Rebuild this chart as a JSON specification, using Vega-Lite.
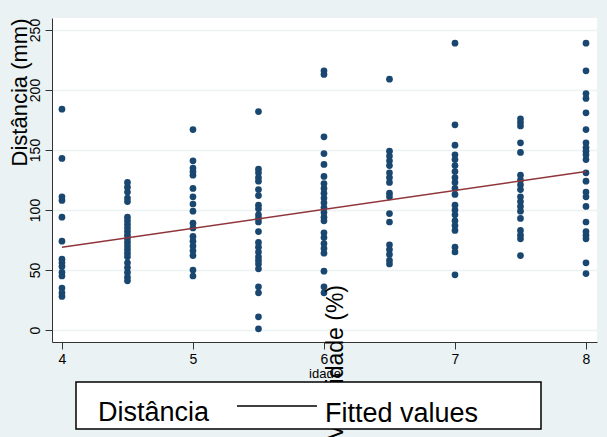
{
  "$schema": "https://vega.github.io/schema/vega-lite/v6.json",
  "width": 545,
  "height": 324,
  "autosize": {"type": "none"},
  "padding": {"left": 52, "top": 18, "right": 10, "bottom": 95},
  "background": "#EAF2F3",
  "config": {
    "view": {"fill": "white", "stroke": null},
    "font": "Liberation Sans",
    "axis": {"labelColor": "black", "titleColor": "black", "domainColor": "#333", "tickColor": "#333", "labelFont": "Liberation Sans", "titleFont": "Liberation Sans", "titleFontWeight": "normal"}
  },
  "datasets": {
    "points": [
      {"idade": 4, "dist": 184}, {"idade": 4, "dist": 143}, {"idade": 4, "dist": 111}, {"idade": 4, "dist": 108}, {"idade": 4, "dist": 94}, {"idade": 4, "dist": 74}, {"idade": 4, "dist": 59}, {"idade": 4, "dist": 56}, {"idade": 4, "dist": 53}, {"idade": 4, "dist": 48}, {"idade": 4, "dist": 45}, {"idade": 4, "dist": 35}, {"idade": 4, "dist": 31}, {"idade": 4, "dist": 28},
      {"idade": 4.5, "dist": 123}, {"idade": 4.5, "dist": 119}, {"idade": 4.5, "dist": 115}, {"idade": 4.5, "dist": 110}, {"idade": 4.5, "dist": 107}, {"idade": 4.5, "dist": 94}, {"idade": 4.5, "dist": 91}, {"idade": 4.5, "dist": 88}, {"idade": 4.5, "dist": 85}, {"idade": 4.5, "dist": 82}, {"idade": 4.5, "dist": 79}, {"idade": 4.5, "dist": 76}, {"idade": 4.5, "dist": 73}, {"idade": 4.5, "dist": 70}, {"idade": 4.5, "dist": 67}, {"idade": 4.5, "dist": 64}, {"idade": 4.5, "dist": 61}, {"idade": 4.5, "dist": 56}, {"idade": 4.5, "dist": 52}, {"idade": 4.5, "dist": 48}, {"idade": 4.5, "dist": 44}, {"idade": 4.5, "dist": 41},
      {"idade": 5, "dist": 167}, {"idade": 5, "dist": 141}, {"idade": 5, "dist": 135}, {"idade": 5, "dist": 132}, {"idade": 5, "dist": 129}, {"idade": 5, "dist": 118}, {"idade": 5, "dist": 111}, {"idade": 5, "dist": 105}, {"idade": 5, "dist": 99}, {"idade": 5, "dist": 89}, {"idade": 5, "dist": 85}, {"idade": 5, "dist": 78}, {"idade": 5, "dist": 74}, {"idade": 5, "dist": 70}, {"idade": 5, "dist": 66}, {"idade": 5, "dist": 62}, {"idade": 5, "dist": 50}, {"idade": 5, "dist": 45},
      {"idade": 5.5, "dist": 182}, {"idade": 5.5, "dist": 134}, {"idade": 5.5, "dist": 131}, {"idade": 5.5, "dist": 127}, {"idade": 5.5, "dist": 124}, {"idade": 5.5, "dist": 117}, {"idade": 5.5, "dist": 112}, {"idade": 5.5, "dist": 104}, {"idade": 5.5, "dist": 101}, {"idade": 5.5, "dist": 96}, {"idade": 5.5, "dist": 93}, {"idade": 5.5, "dist": 90}, {"idade": 5.5, "dist": 82}, {"idade": 5.5, "dist": 73}, {"idade": 5.5, "dist": 69}, {"idade": 5.5, "dist": 65}, {"idade": 5.5, "dist": 61}, {"idade": 5.5, "dist": 58}, {"idade": 5.5, "dist": 55}, {"idade": 5.5, "dist": 51}, {"idade": 5.5, "dist": 36}, {"idade": 5.5, "dist": 31}, {"idade": 5.5, "dist": 11}, {"idade": 5.5, "dist": 1},
      {"idade": 6, "dist": 216}, {"idade": 6, "dist": 213}, {"idade": 6, "dist": 161}, {"idade": 6, "dist": 147}, {"idade": 6, "dist": 138}, {"idade": 6, "dist": 128}, {"idade": 6, "dist": 122}, {"idade": 6, "dist": 118}, {"idade": 6, "dist": 114}, {"idade": 6, "dist": 110}, {"idade": 6, "dist": 106}, {"idade": 6, "dist": 102}, {"idade": 6, "dist": 98}, {"idade": 6, "dist": 94}, {"idade": 6, "dist": 91}, {"idade": 6, "dist": 81}, {"idade": 6, "dist": 77}, {"idade": 6, "dist": 72}, {"idade": 6, "dist": 68}, {"idade": 6, "dist": 64}, {"idade": 6, "dist": 49}, {"idade": 6, "dist": 36}, {"idade": 6, "dist": 31},
      {"idade": 6.5, "dist": 209}, {"idade": 6.5, "dist": 149}, {"idade": 6.5, "dist": 145}, {"idade": 6.5, "dist": 141}, {"idade": 6.5, "dist": 137}, {"idade": 6.5, "dist": 131}, {"idade": 6.5, "dist": 127}, {"idade": 6.5, "dist": 123}, {"idade": 6.5, "dist": 114}, {"idade": 6.5, "dist": 111}, {"idade": 6.5, "dist": 97}, {"idade": 6.5, "dist": 90}, {"idade": 6.5, "dist": 71}, {"idade": 6.5, "dist": 67}, {"idade": 6.5, "dist": 63}, {"idade": 6.5, "dist": 58}, {"idade": 6.5, "dist": 55},
      {"idade": 7, "dist": 239}, {"idade": 7, "dist": 171}, {"idade": 7, "dist": 154}, {"idade": 7, "dist": 146}, {"idade": 7, "dist": 142}, {"idade": 7, "dist": 137}, {"idade": 7, "dist": 132}, {"idade": 7, "dist": 127}, {"idade": 7, "dist": 123}, {"idade": 7, "dist": 118}, {"idade": 7, "dist": 113}, {"idade": 7, "dist": 104}, {"idade": 7, "dist": 100}, {"idade": 7, "dist": 96}, {"idade": 7, "dist": 91}, {"idade": 7, "dist": 87}, {"idade": 7, "dist": 83}, {"idade": 7, "dist": 69}, {"idade": 7, "dist": 65}, {"idade": 7, "dist": 46},
      {"idade": 7.5, "dist": 176}, {"idade": 7.5, "dist": 173}, {"idade": 7.5, "dist": 170}, {"idade": 7.5, "dist": 156}, {"idade": 7.5, "dist": 148}, {"idade": 7.5, "dist": 129}, {"idade": 7.5, "dist": 125}, {"idade": 7.5, "dist": 121}, {"idade": 7.5, "dist": 117}, {"idade": 7.5, "dist": 111}, {"idade": 7.5, "dist": 107}, {"idade": 7.5, "dist": 103}, {"idade": 7.5, "dist": 99}, {"idade": 7.5, "dist": 93}, {"idade": 7.5, "dist": 83}, {"idade": 7.5, "dist": 79}, {"idade": 7.5, "dist": 76}, {"idade": 7.5, "dist": 62},
      {"idade": 8, "dist": 239}, {"idade": 8, "dist": 216}, {"idade": 8, "dist": 197}, {"idade": 8, "dist": 193}, {"idade": 8, "dist": 181}, {"idade": 8, "dist": 167}, {"idade": 8, "dist": 156}, {"idade": 8, "dist": 152}, {"idade": 8, "dist": 149}, {"idade": 8, "dist": 146}, {"idade": 8, "dist": 142}, {"idade": 8, "dist": 131}, {"idade": 8, "dist": 124}, {"idade": 8, "dist": 115}, {"idade": 8, "dist": 111}, {"idade": 8, "dist": 103}, {"idade": 8, "dist": 90}, {"idade": 8, "dist": 82}, {"idade": 8, "dist": 79}, {"idade": 8, "dist": 76}, {"idade": 8, "dist": 56}, {"idade": 8, "dist": 47}
    ],
    "fit": [
      {"idade": 4, "fitted": 69, "serie": "Fitted values"},
      {"idade": 8, "fitted": 132, "serie": "Fitted values"}
    ]
  },
  "layer": [
    {
      "data": {"name": "points"},
      "mark": {"type": "circle", "size": 45, "opacity": 1, "color": "#1A476F"},
      "encoding": {
        "x": {"field": "idade", "type": "quantitative", "scale": {"domain": [3.924, 8.084], "nice": false, "zero": false},
          "axis": {"values": [4, 5, 6, 7, 8], "format": "d", "labelFontSize": 14, "tickSize": 7, "labelPadding": 3, "title": "idade", "titleFontSize": 13, "titlePadding": 1, "grid": false}},
        "y": {"field": "dist", "type": "quantitative", "scale": {"domain": [-10, 260], "nice": false, "zero": false},
          "axis": {"values": [0, 50, 100, 150, 200, 250], "format": "d", "labelAngle": 270, "labelAlign": "center", "labelBaseline": "alphabetic", "labelFontSize": 14, "tickSize": 7, "labelPadding": 6, "grid": true, "gridColor": "#EAF2F3", "gridWidth": 1.5,
            "title": "Distância (mm)", "titleFontSize": 22, "titleAngle": 270, "titleX": -33, "titleY": 0, "titleAlign": "right", "titleBaseline": "middle"}}
      }
    },
    {
      "data": {"name": "fit"},
      "mark": {"type": "line", "strokeWidth": 1.5, "stroke": "#90353B"},
      "encoding": {
        "x": {"field": "idade", "type": "quantitative"},
        "y": {"field": "fitted", "type": "quantitative"},
        "color": {"field": "serie", "type": "nominal", "scale": {"domain": ["Fitted values"], "range": ["black"]},
          "legend": {"orient": "none", "legendX": 24, "legendY": 364, "direction": "horizontal", "zindex": 0,
            "title": "\u2800Distância", "titleOrient": "left", "titleFontSize": 27, "titleFontWeight": "normal", "titleColor": "black", "titleFont": "Liberation Sans", "titlePadding": 26, "titleBaseline": "bottom", "titleAnchor": "end",
            "labelFontSize": 27, "labelFont": "Liberation Sans", "labelColor": "black", "labelOffset": 7, "labelLimit": 400, "labelBaseline": "top",
            "labelExpr": "datum.label + '\u2800\u2800\u2800'",
            "symbolType": "stroke", "symbolSize": 6400, "symbolStrokeWidth": 1.5, "symbolStrokeColor": "black", "clipHeight": 33,
            "fillColor": "white", "strokeColor": "black", "padding": 2,
            "encode": {"legend": {"update": {"strokeWidth": {"value": 1.5}}}, "symbols": {"update": {"y": {"value": 22}}}}}}
      }
    },
    {
      "data": {"values": [{}]},
      "mark": {"type": "text", "angle": 270, "align": "right", "baseline": "middle", "fontSize": 23, "font": "Liberation Sans", "color": "black", "clip": false},
      "encoding": {
        "x": {"datum": 6.09, "type": "quantitative"},
        "y": {"datum": 37.5, "type": "quantitative"},
        "text": {"value": "Velocidade (%)"}
      }
    }
  ]
}
